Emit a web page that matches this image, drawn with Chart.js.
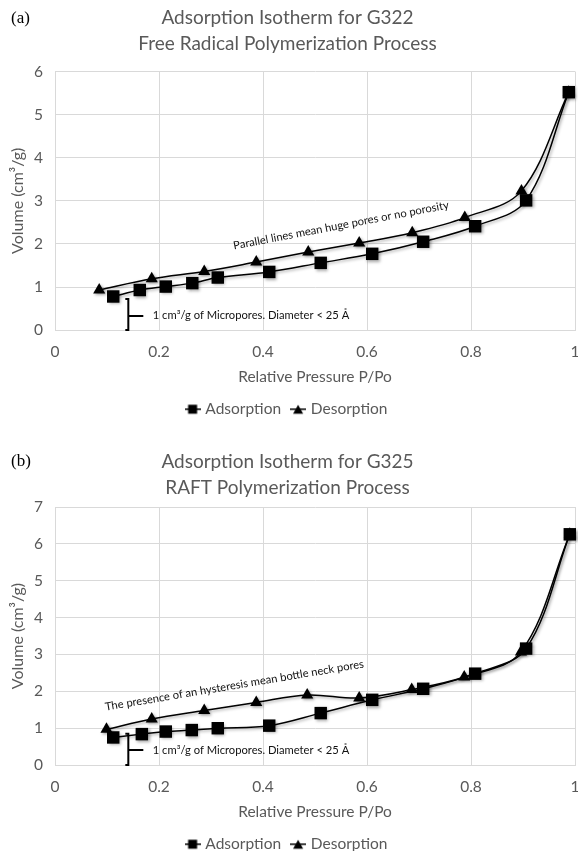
<!DOCTYPE html>
<html><head><meta charset="utf-8">
<script src="https://cdn.jsdelivr.net/npm/chart.js@4.4.0/dist/chart.umd.min.js"></script>
<style>
html,body{margin:0;padding:0;background:#fff;width:578px;height:851px;overflow:hidden;position:relative;}
.wrap{position:absolute;left:0;width:578px;}
.tag{position:absolute;left:11px;font-family:"Liberation Serif","DejaVu Serif",serif;font-size:17px;color:#000;}
</style></head><body>
<div class="wrap" style="top:0;height:427px"><canvas id="cA" width="578" height="427"></canvas></div>
<div class="tag" style="top:8px">(a)</div>
<div class="wrap" style="top:425px;height:437px"><canvas id="cB" width="578" height="437"></canvas></div>
<div class="tag" style="top:451px">(b)</div>
<script>
// ---------- data ----------
const xTickValues = [0, 0.2, 0.4, 0.6, 0.8, 1];
const seriesNames = ['Adsorption', 'Desorption'];

const g322AdsP = [0.112,0.163,0.213,0.264,0.313,0.412,0.511,0.610,0.708,0.808,0.906,0.988];
const g322AdsV = [0.78,0.93,1.01,1.09,1.22,1.35,1.56,1.77,2.05,2.41,3.01,5.52];
const g322DesP = [0.988,0.897,0.788,0.687,0.585,0.487,0.387,0.287,0.186,0.085];
const g322DesV = [5.52,3.23,2.61,2.26,2.02,1.81,1.58,1.36,1.19,0.93];

const g325AdsP = [0.112,0.167,0.213,0.263,0.313,0.412,0.511,0.610,0.708,0.808,0.906,0.990];
const g325AdsV = [0.75,0.84,0.91,0.95,1.00,1.07,1.41,1.77,2.07,2.48,3.16,6.26];
const g325DesP = [0.990,0.896,0.787,0.686,0.585,0.485,0.387,0.287,0.186,0.099];
const g325DesV = [6.26,3.07,2.39,2.05,1.82,1.90,1.70,1.48,1.25,0.97];

const titleA = ['Adsorption Isotherm for G322', 'Free Radical Polymerization Process'];
const titleB = ['Adsorption Isotherm for G325', 'RAFT Polymerization Process'];
const yTitle = 'Volume (cm\u00B3/g)';
const xTitle = 'Relative Pressure P/Po';
const noteA = 'Parallel lines mean huge pores or no porosity';
const noteB = 'The presence of an hysteresis mean bottle neck pores';
const microNote = '1 cm\u00B3/g of Micropores. Diameter < 25 \u00C5';

// ---------- helpers ----------
const FONT = 'Lato, "Open Sans", sans-serif';
const GRAY = '#595959';
const GRID = '#d9d9d9';

function pts(xs, ys){ return xs.map((x,i)=>({x:x, y:ys[i]})); }

function legendIcon(shape){
  const c = document.createElement('canvas'); c.width = 16; c.height = 12;
  const g = c.getContext('2d');
  g.strokeStyle = '#000'; g.lineWidth = 1.5;
  g.beginPath(); g.moveTo(0,6); g.lineTo(16,6); g.stroke();
  g.fillStyle = '#000';
  if (shape === 'rect') g.fillRect(3.5,1.5,9,9);
  else { g.beginPath(); g.moveTo(8,1.5); g.lineTo(13,10.5); g.lineTo(3,10.5); g.closePath(); g.fill(); }
  return c;
}
const icons = [legendIcon('rect'), legendIcon('triangle')];

const shadowPlugin = {
  id: 'shadow',
  beforeDatasetsDraw(chart){ const c = chart.ctx; c.save();
    c.shadowColor = 'rgba(0,0,0,0.35)'; c.shadowBlur = 3; c.shadowOffsetX = 1.5; c.shadowOffsetY = 1.5; },
  afterDatasetsDraw(chart){ chart.ctx.restore(); }
};

function notesPlugin(notes){
  return {
    id: 'notes',
    afterDatasetsDraw(chart){
      const ctx = chart.ctx, xs = chart.scales.x, ys = chart.scales.y;
      ctx.save();
      notes.forEach(n => {
        if (n.type === 'text') {
          const px = xs.getPixelForValue(n.x), py = ys.getPixelForValue(n.y);
          ctx.save();
          ctx.translate(px, py);
          ctx.rotate((n.angle || 0) * Math.PI / 180);
          ctx.font = '11.2px ' + FONT;
          ctx.fillStyle = '#111';
          ctx.textAlign = n.align || 'center';
          ctx.textBaseline = 'middle';
          ctx.fillText(n.text, 0, 0);
          ctx.restore();
        } else if (n.type === 'bracket') {
          const px = xs.getPixelForValue(n.x);
          const p0 = ys.getPixelForValue(n.y0), p1 = ys.getPixelForValue(n.y1), pm = ys.getPixelForValue(n.ymid);
          ctx.strokeStyle = '#000'; ctx.lineWidth = 2;
          ctx.beginPath();
          ctx.moveTo(px - 3, p1); ctx.lineTo(px, p1); ctx.lineTo(px, p0); ctx.lineTo(px - 3, p0);
          ctx.moveTo(px, pm); ctx.lineTo(px + 15, pm);
          ctx.stroke();
        }
      });
      ctx.restore();
    }
  };
}

function makeChart(id, cfg){
  const common = {showLine:true, borderColor:'#000', backgroundColor:'#000', borderWidth:1.5,
    pointBorderColor:'#000', pointBackgroundColor:'#000', pointBorderWidth:0, tension:0.35, clip:false};
  return new Chart(document.getElementById(id), {
    type: 'scatter',
    data: { datasets: [
      Object.assign({label: seriesNames[0], data: cfg.ads, pointStyle:'rect', pointRadius:8.8}, common),
      Object.assign({label: seriesNames[1], data: cfg.des, pointStyle:'triangle', pointRadius:7}, common)
    ]},
    options: {
      responsive:false, animation:false, devicePixelRatio:1,
      layout: {autoPadding:false, padding:{top:0, left:0, right:3, bottom:0}},
      plugins: {
        title: {display:true, text: cfg.title, color: GRAY,
          font:{family:FONT, size:19, weight:'normal', lineHeight:'26px'},
          padding:{top: cfg.titleTop, bottom: cfg.titleBottom}},
        legend: {position:'bottom',
          labels: {usePointStyle:true, pointStyleWidth:10, color:GRAY, padding:12,
            font:{family:FONT, size:15.5},
            generateLabels(chart){
              return chart.data.datasets.map((d,i)=>({text:d.label, pointStyle:icons[i], fillStyle:'#000',
                strokeStyle:'#000', lineWidth:0, hidden:false, datasetIndex:i, fontColor:GRAY}));
            }}},
        tooltip: {enabled:false}
      },
      scales: {
        x: {type:'linear', min:0, max:1,
          afterBuildTicks(s){ s.ticks = xTickValues.map(v=>({value:v})); },
          ticks:{color:GRAY, padding:12.5, font:{family:FONT, size:15.5}, callback:v=>String(v)},
          grid:{color:GRID, drawTicks:false}, border:{color:GRID},
          title:{display:true, text:xTitle, color:GRAY, font:{family:FONT, size:15.5}, padding:{top:0, bottom:3.7}},
          afterFit(s){ s.height = 59.4; s.paddingLeft = 0; s.paddingRight = 0; }
        },
        y: {min:0, max:cfg.ymax,
          ticks:{stepSize:1, color:GRAY, padding:12, font:{family:FONT, size:15.5}},
          grid:{color:GRID, drawTicks:false}, border:{color:GRID},
          title:{display:true, text:yTitle, color:GRAY, font:{family:FONT, size:16}, padding:{top:8.4, bottom:0}},
          afterFit(s){ s.width = 55; s.paddingTop = 0; s.paddingBottom = 0; }
        }
      }
    },
    plugins: [shadowPlugin, notesPlugin(cfg.notes)]
  });
}

makeChart('cA', {
  ads: pts(g322AdsP, g322AdsV), des: pts(g322DesP, g322DesV), title: titleA, ymax: 6,
  titleTop: 5, titleBottom: 14.5,
  notes: [
    {type:'text', x:0.550, y:2.43, text:noteA, angle:-10.8},
    {type:'bracket', x:0.141, y0:0, y1:0.72, ymid:0.33},
    {type:'text', x:0.188, y:0.33, text:microNote, align:'left'}
  ]
});
makeChart('cB', {
  ads: pts(g325AdsP, g325AdsV), des: pts(g325DesP, g325DesV), title: titleB, ymax: 7,
  titleTop: 24, titleBottom: 6,
  notes: [
    {type:'text', x:0.345, y:2.16, text:noteB, angle:-9.5},
    {type:'bracket', x:0.141, y0:0, y1:0.85, ymid:0.41},
    {type:'text', x:0.188, y:0.41, text:microNote, align:'left'}
  ]
});
</script>
</body></html>
